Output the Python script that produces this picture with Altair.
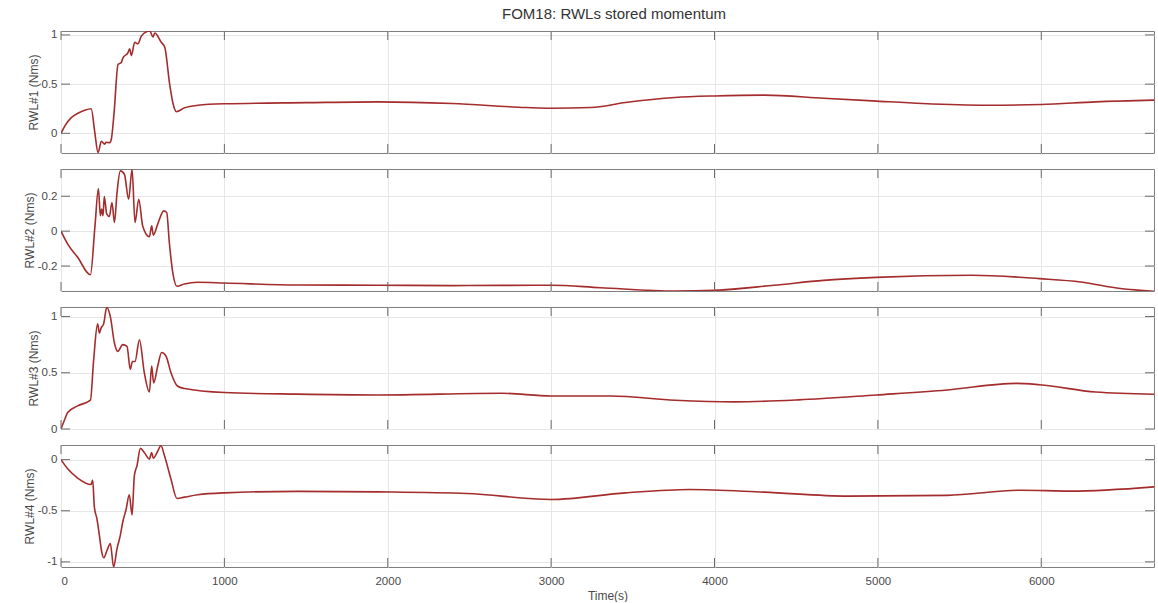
import altair as alt
import pandas as pd

# ---------------- data ----------------
x_ticks = [0, 1000, 2000, 3000, 4000, 5000, 6000]
XMAX = 6690

t1 = [0, 23, 63, 104, 145, 185, 206, 227, 247, 267, 277, 298, 308, 325, 349, 369, 380, 410, 420, 431,
      451, 471, 492, 543, 563, 574, 614, 635, 665, 686, 706, 757, 839, 1000, 1500, 1939, 2394, 2848,
      3000, 3242, 3455, 3758, 4000, 4303, 4667, 4970, 5273, 5667, 6000, 6333, 6690]
v1 = [0, 0.074, 0.16, 0.204, 0.235, 0.25, 0.02, -0.197, -0.08, -0.11, -0.09, -0.095, -0.06, 0.21, 0.70,
      0.72, 0.77, 0.82, 0.86, 0.79, 0.925, 0.91, 0.99, 1.04, 0.98, 1.02, 0.925, 0.875, 0.5, 0.30, 0.22,
      0.26, 0.285, 0.30, 0.312, 0.32, 0.303, 0.262, 0.255, 0.262, 0.313, 0.364, 0.38, 0.388, 0.357,
      0.33, 0.303, 0.286, 0.293, 0.32, 0.337]

t2 = [0, 41, 102, 180, 208, 229, 241, 249, 257, 265, 280, 296, 312, 327, 343, 363, 388, 414, 435, 453,
      476, 500, 541, 555, 565, 592, 629, 647, 663, 684, 710, 755, 837, 1000, 1449, 1939, 2394, 3000,
      3303, 3758, 4000, 4364, 4667, 4991, 5576, 5988, 6242, 6485, 6690]
v2 = [0, -0.074, -0.15, -0.25, 0.03, 0.244, 0.088, 0.126, 0.088, 0.198, 0.097, 0.084, 0.164, 0.05,
      0.221, 0.345, 0.326, 0.183, 0.354, 0.05, 0.183, 0.03, -0.032, 0.03, -0.023, 0.04, 0.116, 0.107,
      -0.065, -0.236, -0.316, -0.303, -0.293, -0.297, -0.309, -0.310, -0.312, -0.310, -0.324, -0.343,
      -0.339, -0.310, -0.282, -0.265, -0.253, -0.272, -0.291, -0.329, -0.345]

t3 = [0, 20, 41, 102, 180, 200, 224, 235, 245, 261, 280, 302, 327, 347, 378, 404, 424, 437, 453, 480,
      510, 541, 555, 567, 592, 616, 643, 673, 714, 755, 1000, 1449, 1939, 2697, 3000, 3364, 3758, 4121,
      4515, 4991, 5424, 5848, 5988, 6333, 6690]
v3 = [0, 0.075, 0.147, 0.206, 0.256, 0.618, 0.935, 0.853, 0.897, 0.935, 1.08, 1.0, 0.765, 0.69, 0.75,
      0.735, 0.53, 0.60, 0.60, 0.794, 0.5, 0.33, 0.56, 0.41, 0.56, 0.68, 0.647, 0.5, 0.38, 0.36, 0.324,
      0.31, 0.303, 0.318, 0.294, 0.294, 0.256, 0.241, 0.259, 0.303, 0.347, 0.406, 0.394, 0.329, 0.309]

t4 = [0, 41, 102, 184, 194, 204, 220, 235, 249, 261, 282, 302, 322, 343, 363, 378, 398, 418, 435, 449,
      465, 486, 510, 541, 555, 565, 588, 612, 633, 673, 710, 755, 837, 1000, 1449, 1939, 2485, 3000,
      3455, 3848, 4303, 4818, 5424, 5879, 6182, 6690]
v4 = [0, -0.09, -0.18, -0.243, -0.2, -0.46, -0.58, -0.74, -0.9, -0.96, -0.886, -0.82, -1.05, -0.87,
      -0.74, -0.61, -0.49, -0.344, -0.54, -0.156, -0.06, 0.11, 0.07, 0.006, 0.07, 0.013, 0.07, 0.136,
      0.04, -0.19, -0.38, -0.367, -0.344, -0.325, -0.31, -0.315, -0.331, -0.39, -0.325, -0.292, -0.318,
      -0.357, -0.35, -0.299, -0.308, -0.266]

y_labels = ["RWL#1 (Nms)", "RWL#2 (Nms)", "RWL#3 (Nms)", "RWL#4 (Nms)"]
y_domains = [[-0.2, 1.04], [-0.343, 0.356], [0, 1.085], [-1.05, 0.143]]
y_ticks = [[0, 0.5, 1], [-0.2, 0, 0.2], [0, 0.5, 1], [-1, -0.5, 0]]
y_title_x = [-27.5, -31.5, -27.5, -31.5]

# ---------------- style ----------------
W, H = 1093, 122
TL = 9
LINE = "#a52c2c"
TICK = "#6a6a6a"
FONT = "Liberation Sans"
GRID = "#e6e6e6"


def make_panel(t, v, ylabel, ydom, yt, tx, bottom):
    df = pd.DataFrame({"t": t, "v": v})
    xs = alt.Scale(domain=[0, XMAX], nice=False, zero=False)
    ys = alt.Scale(domain=ydom, nice=False, zero=False)
    if bottom:
        xaxis = alt.Axis(values=x_ticks, labelExpr="toString(datum.value)", ticks=False, domain=False,
                         labelPadding=8, title="Time(s)", titlePadding=4, grid=True)
    else:
        xaxis = alt.Axis(values=x_ticks, labels=False, ticks=False, domain=False, title=None,
                         grid=True, minExtent=0, maxExtent=0)
    yaxis = alt.Axis(values=yt, labelExpr="toString(datum.value)", ticks=False, domain=False,
                     labelPadding=4, title=ylabel, titleX=tx, titleY=H / 2,
                     titleBaseline="middle", grid=True)

    line = alt.Chart(df).mark_line(color=LINE, strokeWidth=1.6, interpolate="monotone", clip=True).encode(
        x=alt.X("t:Q", scale=xs, axis=xaxis),
        y=alt.Y("v:Q", scale=ys, axis=yaxis),
    )
    xt = pd.DataFrame({"t": x_ticks})
    ytd = pd.DataFrame({"v": yt})
    top_t = alt.Chart(xt).mark_rule(color=TICK, strokeWidth=1).encode(
        x=alt.X("t:Q", scale=xs, axis=xaxis), y=alt.value(0), y2=alt.value(TL))
    bot_t = alt.Chart(xt).mark_rule(color=TICK, strokeWidth=1).encode(
        x=alt.X("t:Q", scale=xs, axis=xaxis), y=alt.value(H), y2=alt.value(H - TL))
    left_t = alt.Chart(ytd).mark_rule(color=TICK, strokeWidth=1).encode(
        y=alt.Y("v:Q", scale=ys, axis=yaxis), x=alt.value(0), x2=alt.value(TL))
    right_t = alt.Chart(ytd).mark_rule(color=TICK, strokeWidth=1).encode(
        y=alt.Y("v:Q", scale=ys, axis=yaxis), x=alt.value(W), x2=alt.value(W - TL))

    return alt.layer(line, top_t, bot_t, left_t, right_t).properties(width=W, height=H)


panels = []
data = [(t1, v1), (t2, v2), (t3, v3), (t4, v4)]
for i, (t, v) in enumerate(data):
    panels.append(make_panel(t, v, y_labels[i], y_domains[i], y_ticks[i], y_title_x[i], bottom=(i == 3)))

chart = alt.vconcat(*panels, spacing=16, bounds="flush").properties(
    title=alt.TitleParams("FOM18: RWLs stored momentum", anchor="middle", offset=6, fontSize=15,
                          font=FONT, fontWeight="normal", color="#333333", dx=25),
    padding={"left": 22, "top": 7, "right": 2, "bottom": 0},
).configure_view(
    stroke="#7f7f7f", strokeWidth=1
).configure_axis(
    labelFont=FONT, labelFontSize=11.5, labelColor="#4a4a4a",
    titleFont=FONT, titleFontSize=12, titleColor="#4a4a4a", titleFontWeight="normal",
    gridColor=GRID, gridWidth=1
)

chart.save("out.html", embed_options={"renderer": "svg", "actions": False})
